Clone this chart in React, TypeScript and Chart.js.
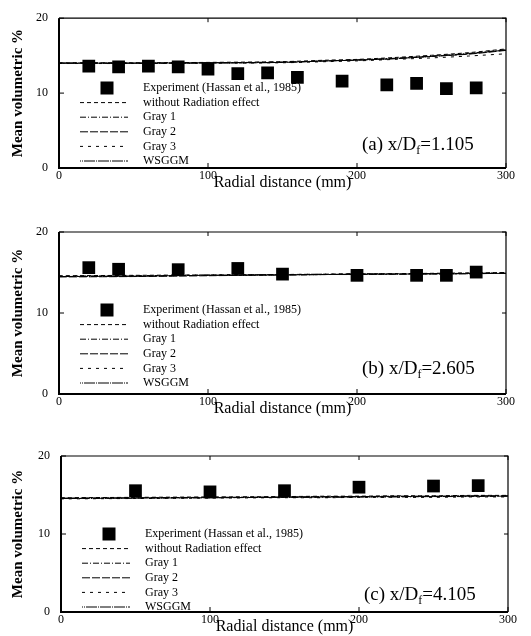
import React, { useEffect, useRef } from "react";
import { Chart, registerables } from "chart.js";
Chart.register(...registerables);

const SERIF = "'Liberation Serif', 'Times New Roman', serif";

// ---------- data ----------
const xTicks = [0, 100, 200, 300];
const yTicks = [0, 10, 20];

const expXA = [20, 40, 60, 80, 100, 120, 140, 160, 190, 220, 240, 260, 280];
const expYA = [13.6, 13.5, 13.6, 13.5, 13.2, 12.6, 12.7, 12.1, 11.6, 11.1, 11.3, 10.6, 10.7];
const expXB = [20, 40, 80, 120, 150, 200, 240, 260, 280];
const expYB = [15.6, 15.4, 15.35, 15.5, 14.8, 14.65, 14.65, 14.65, 15.05];
const expXC = [50, 100, 150, 200, 250, 280];
const expYC = [15.55, 15.4, 15.55, 16.0, 16.15, 16.2];

const modelX = [0, 50, 100, 150, 180, 200, 225, 250, 275, 300];
const noRadA = [14.05, 14.05, 14.1, 14.2, 14.4, 14.5, 14.75, 15.05, 15.4, 15.9];
const gray1A = [14.0, 14.0, 14.05, 14.15, 14.3, 14.45, 14.65, 14.95, 15.3, 15.8];
const gray2A = [14.0, 14.0, 14.0, 14.1, 14.3, 14.4, 14.6, 14.9, 15.2, 15.7];
const gray3A = [13.95, 13.95, 14.0, 14.05, 14.2, 14.3, 14.5, 14.7, 14.95, 15.25];
const wsggmA = [14.0, 14.0, 14.05, 14.1, 14.3, 14.4, 14.6, 14.9, 15.25, 15.75];

const noRadB = [14.6, 14.65, 14.7, 14.75, 14.8, 14.85, 14.85, 14.9, 14.95, 15.0];
const gray1B = [14.5, 14.55, 14.65, 14.7, 14.75, 14.8, 14.8, 14.85, 14.9, 14.9];
const gray2B = [14.45, 14.5, 14.6, 14.7, 14.75, 14.75, 14.8, 14.8, 14.85, 14.9];
const gray3B = [14.55, 14.6, 14.7, 14.75, 14.8, 14.8, 14.85, 14.85, 14.9, 14.95];
const wsggmB = [14.5, 14.55, 14.65, 14.7, 14.75, 14.8, 14.8, 14.85, 14.85, 14.9];

const noRadC = [14.65, 14.7, 14.75, 14.8, 14.85, 14.85, 14.9, 14.9, 14.95, 14.95];
const gray1C = [14.55, 14.6, 14.65, 14.7, 14.7, 14.75, 14.75, 14.8, 14.8, 14.85];
const gray2C = [14.6, 14.65, 14.7, 14.75, 14.8, 14.8, 14.85, 14.85, 14.9, 14.9];
const gray3C = [14.5, 14.55, 14.6, 14.65, 14.65, 14.7, 14.7, 14.7, 14.75, 14.75];
const wsggmC = [14.55, 14.6, 14.65, 14.7, 14.75, 14.75, 14.8, 14.8, 14.85, 14.85];

const expLabel = "Experiment (Hassan et al., 1985)";
const modelLabels = ["without Radiation effect", "Gray 1", "Gray 2", "Gray 3", "WSGGM"];
const modelDashes = [[4, 3], [6, 2, 1, 2], [8, 2], [3, 5], [1, 1, 1, 1, 10, 0]];

type PanelDef = {
  top: number;
  height: number;
  chartTop: number;
  chartBottom: number;
  chartLeft: number;
  chartRight: number;
  expX: number[];
  expY: number[];
  models: number[][];
  letter: string;
  value: string;
  legendFirst: number;
  labelBase: number;
};

const panels: PanelDef[] = [
  {
    top: 0, height: 200, chartTop: 9, chartBottom: 168, chartLeft: 59, chartRight: 506,
    expX: expXA, expY: expYA, models: [noRadA, gray1A, gray2A, gray3A, wsggmA],
    letter: "(a)", value: "=1.105", legendFirst: 80, labelBase: 18,
  },
  {
    top: 212, height: 212, chartTop: 20, chartBottom: 182, chartLeft: 59, chartRight: 506,
    expX: expXB, expY: expYB, models: [noRadB, gray1B, gray2B, gray3B, wsggmB],
    letter: "(b)", value: "=2.605", legendFirst: 84, labelBase: 20,
  },
  {
    top: 424, height: 212, chartTop: 32, chartBottom: 188, chartLeft: 61, chartRight: 508,
    expX: expXC, expY: expYC, models: [noRadC, gray1C, gray2C, gray3C, wsggmC],
    letter: "(c)", value: "=4.105", legendFirst: 78, labelBase: 12,
  },
];

function PanelChart({ p }: { p: PanelDef }) {
  const ref = useRef<HTMLCanvasElement | null>(null);
  useEffect(() => {
    if (!ref.current) return;
    const xAxisH = 24;
    const padB = p.height - p.chartBottom - xAxisH;
    const padR = 531 - p.chartRight;

    const framePlugin = {
      id: "frame" + p.letter,
      afterDatasetsDraw(chart: any) {
        const { ctx, chartArea: a, scales } = chart;
        ctx.save();
        ctx.strokeStyle = "#000";
        ctx.setLineDash([]);
        ctx.lineWidth = 1.2;
        ctx.beginPath();
        ctx.moveTo(a.left, a.top);
        ctx.lineTo(a.right, a.top);
        ctx.lineTo(a.right, a.bottom);
        ctx.stroke();
        ctx.lineWidth = 2;
        ctx.beginPath();
        ctx.moveTo(a.left, a.top);
        ctx.lineTo(a.left, a.bottom);
        ctx.lineTo(a.right, a.bottom);
        ctx.stroke();
        ctx.lineWidth = 1;
        ctx.beginPath();
        xTicks.forEach((v) => {
          const x = scales.x.getPixelForValue(v);
          ctx.moveTo(x, a.bottom);
          ctx.lineTo(x, a.bottom - 5);
          ctx.moveTo(x, a.top);
          ctx.lineTo(x, a.top + 4);
        });
        yTicks.forEach((v) => {
          const y = scales.y.getPixelForValue(v);
          ctx.moveTo(a.left, y);
          ctx.lineTo(a.left + 5, y);
          ctx.moveTo(a.right, y);
          ctx.lineTo(a.right - 4, y);
        });
        ctx.stroke();

        // legend
        const rowH = 14.6;
        const textX = a.left + 84;
        ctx.fillStyle = "#000";
        ctx.font = `12px ${SERIF}`;
        ctx.textBaseline = "middle";
        ctx.textAlign = "left";
        const y = a.bottom - p.legendFirst;
        const sq = 13;
        ctx.fillRect(a.left + 48 - sq / 2, y - sq / 2, sq, sq);
        ctx.fillText(expLabel, textX, y);
        modelLabels.forEach((lab, i) => {
          const yy = y + rowH * (i + 1);
          ctx.lineWidth = 1;
          ctx.setLineDash(modelDashes[i]);
          ctx.beginPath();
          ctx.moveTo(a.left + 21, yy);
          ctx.lineTo(a.left + 69, yy);
          ctx.stroke();
          ctx.setLineDash([]);
          ctx.fillText(lab, textX, yy);
        });

        // panel label
        const bx = a.left + 303;
        const by = a.bottom - p.labelBase;
        ctx.textBaseline = "alphabetic";
        ctx.font = `19px ${SERIF}`;
        const part1 = p.letter + " x/D";
        ctx.fillText(part1, bx, by);
        let w = ctx.measureText(part1).width;
        ctx.font = `12px ${SERIF}`;
        ctx.fillText("f", bx + w, by + 4);
        w += ctx.measureText("f").width;
        ctx.font = `19px ${SERIF}`;
        ctx.fillText(p.value, bx + w, by);
        ctx.restore();
      },
    };

    const datasets: any[] = [
      {
        label: expLabel,
        data: p.expX.map((x, i) => ({ x, y: p.expY[i] })),
        showLine: false,
        pointStyle: "rect",
        pointRadius: 9,
        pointBackgroundColor: "#000",
        pointBorderColor: "#000",
        pointBorderWidth: 0,
        order: 0,
      },
      ...p.models.map((m, k) => ({
        label: modelLabels[k],
        data: modelX.map((x, i) => ({ x, y: m[i] })),
        showLine: true,
        borderColor: "#000",
        borderWidth: 1,
        borderDash: modelDashes[k],
        pointRadius: 0,
        tension: 0.3,
        fill: false,
        order: 1,
      })),
    ];

    const chart = new Chart(ref.current, {
      type: "scatter",
      data: { datasets },
      options: {
        animation: false,
        responsive: false,
        events: [],
        layout: { padding: { left: 0, right: padR, top: p.chartTop, bottom: padB } },
        plugins: { legend: { display: false }, tooltip: { enabled: false }, title: { display: false } },
        scales: {
          x: {
            type: "linear",
            min: 0,
            max: 300,
            afterBuildTicks: (s: any) => { s.ticks = xTicks.map((v) => ({ value: v })); },
            grid: { display: false, drawTicks: false },
            border: { display: false },
            ticks: { color: "#000", font: { family: SERIF, size: 12 }, padding: 1, maxRotation: 0, autoSkip: false },
            title: { display: true, text: "Radial distance (mm)", color: "#000", font: { family: SERIF, size: 16 }, padding: { top: 0, bottom: 0 } },
            afterFit: (s: any) => { s.height = xAxisH; },
          },
          y: {
            type: "linear",
            min: 0,
            max: 20,
            afterBuildTicks: (s: any) => { s.ticks = yTicks.map((v) => ({ value: v })); },
            grid: { display: false, drawTicks: false },
            border: { display: false },
            ticks: { color: "#000", font: { family: SERIF, size: 12 }, padding: 11 },
            title: { display: true, text: "Mean volumetric %", color: "#000", font: { family: SERIF, size: 15, weight: "bold" }, padding: { top: 9, bottom: 0 } },
            afterFit: (s: any) => { s.width = p.chartLeft; },
          },
        },
      } as any,
      plugins: [framePlugin],
    });
    return () => chart.destroy();
  }, [p]);

  return (
    <canvas
      ref={ref}
      width={531}
      height={p.height}
      style={{ position: "absolute", left: 0, top: p.top, width: 531, height: p.height }}
    />
  );
}

export default function App() {
  return (
    <div style={{ position: "absolute", left: 0, top: 0, width: 531, height: 636, background: "#fff" }}>
      {panels.map((p) => (
        <PanelChart key={p.letter} p={p} />
      ))}
    </div>
  );
}
